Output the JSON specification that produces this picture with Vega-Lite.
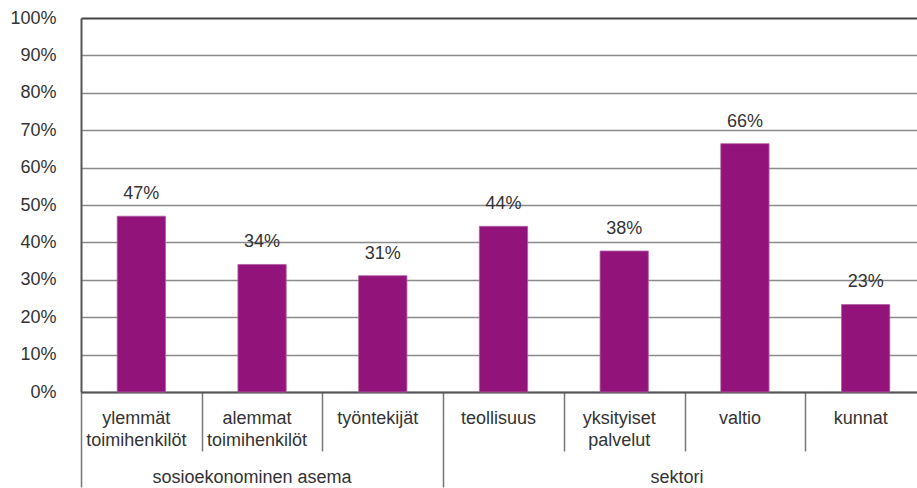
{
  "$schema": "https://vega.github.io/schema/vega-lite/v6.json",
  "width": 845,
  "height": 374,
  "autosize": {"type": "none"},
  "padding": {"left": 81, "top": 18, "right": 0, "bottom": 96},
  "background": "white",
  "config": {"view": {"stroke": null}, "font": "Liberation Sans"},
  "data": {
    "values": [
      {"category": "ylemmät toimihenkilöt", "group": "sosioekonominen asema", "value": 0.470},
      {"category": "alemmat toimihenkilöt", "group": "sosioekonominen asema", "value": 0.341},
      {"category": "työntekijät", "group": "sosioekonominen asema", "value": 0.311},
      {"category": "teollisuus", "group": "sektori", "value": 0.443},
      {"category": "yksityiset palvelut", "group": "sektori", "value": 0.377},
      {"category": "valtio", "group": "sektori", "value": 0.664},
      {"category": "kunnat", "group": "sektori", "value": 0.234}
    ]
  },
  "encoding": {
    "y": {
      "field": "value",
      "type": "quantitative",
      "scale": {"domain": [0, 1], "nice": false},
      "axis": {
        "values": [0, 0.1, 0.2, 0.3, 0.4, 0.5, 0.6, 0.7, 0.8, 0.9, 1],
        "format": ".0%",
        "title": null,
        "grid": true,
        "gridColor": {"condition": {"test": "datum.value == 1", "value": "#444444"}, "value": "#8a8a8a"},
        "gridWidth": {"condition": {"test": "datum.value == 1", "value": 2}, "value": 1.3},
        "domainColor": "#555555",
        "domainWidth": 2,
        "ticks": false,
        "labelPadding": 25,
        "labelFontSize": 18,
        "labelColor": "#333333",
        "labelFont": "Liberation Sans"
      }
    }
  },
  "layer": [
    {
      "mark": {"type": "bar", "color": "#92137a", "stroke": "#b160a4", "strokeWidth": 0.8},
      "encoding": {
        "x": {
          "field": "category",
          "type": "nominal",
          "sort": null,
          "scale": {"paddingInner": 0.6, "paddingOuter": 0.3},
          "axis": {
            "orient": "bottom",
            "title": null,
            "labels": false,
            "grid": false,
            "ticks": true,
            "bandPosition": 0,
            "tickExtra": false,
            "tickOffset": -36.2,
            "tickSize": {"condition": {"test": "datum.value == 'ylemmät toimihenkilöt' || datum.value == 'teollisuus'", "value": 95}, "value": 59},
            "tickColor": "#777777",
            "tickWidth": 1.5,
            "domainColor": "#555555",
            "domainWidth": 2
          }
        }
      }
    },
    {
      "mark": {"type": "text", "baseline": "bottom", "dy": -13, "fontSize": 18, "color": "#333333", "font": "Liberation Sans"},
      "encoding": {
        "x": {
          "field": "category",
          "type": "nominal",
          "sort": null,
          "scale": {"paddingInner": 0.6, "paddingOuter": 0.3},
          "axis": {
            "orient": "bottom",
            "title": null,
            "grid": false,
            "ticks": false,
            "domain": false,
            "labelExpr": "split(datum.value, ' ')",
            "labelAngle": 0,
            "labelPadding": 17,
            "labelFontSize": 18,
            "labelFont": "Liberation Sans",
            "labelColor": "#333333",
            "labelLineHeight": 22,
            "labelBaseline": "top",
            "labelOffset": -5,
            "labelOverlap": false,
            "labelBound": false,
            "labelFlush": false
          }
        },
        "text": {"field": "value", "type": "quantitative", "format": ".0%"}
      }
    },
    {
      "mark": {"type": "bar", "opacity": 0},
      "encoding": {
        "x": {
          "field": "category",
          "type": "nominal",
          "sort": null,
          "scale": {"paddingInner": 0.6, "paddingOuter": 0.3},
          "axis": {
            "orient": "bottom",
            "title": null,
            "grid": false,
            "domain": false,
            "ticks": false,
            "values": ["alemmat toimihenkilöt", "valtio"],
            "labelExpr": "datum.value == 'valtio' ? 'sektori' : 'sosioekonominen asema'",
            "labelAngle": 0,
            "labelAlign": "center",
            "labelOffset": {"condition": {"test": "datum.value == 'valtio'", "value": -68}, "value": -10},
            "labelPadding": 76,
            "labelLimit": 500,
            "labelFontSize": 18,
            "labelFont": "Liberation Sans",
            "labelColor": "#333333",
            "labelBaseline": "top",
            "labelOverlap": false,
            "labelBound": false,
            "labelFlush": false
          }
        }
      }
    }
  ],
  "resolve": {"axis": {"x": "independent"}}
}
